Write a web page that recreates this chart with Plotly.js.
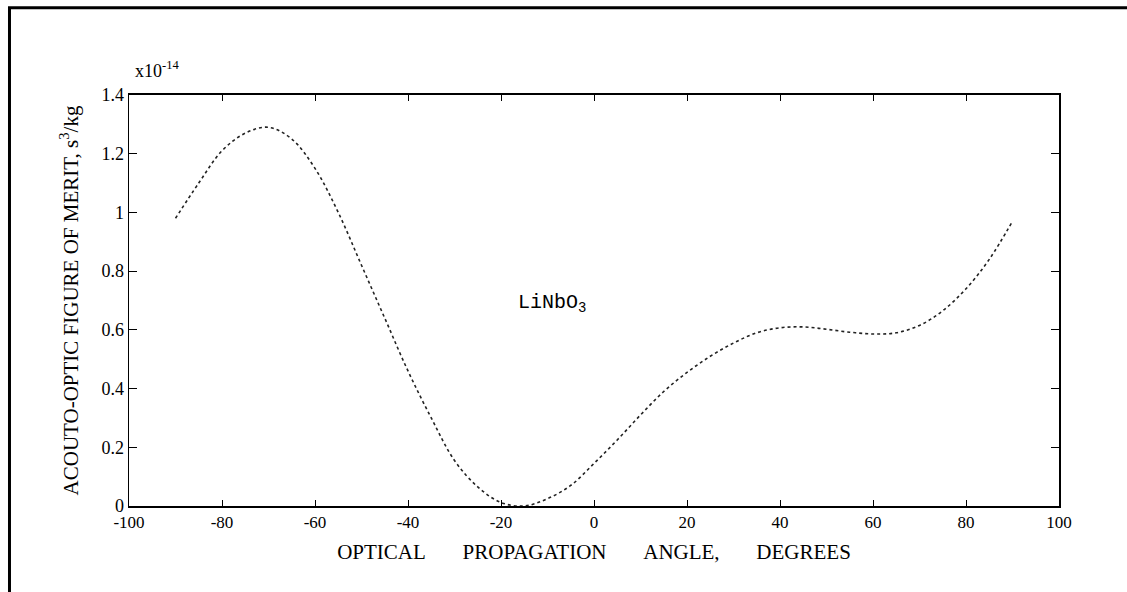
<!DOCTYPE html>
<html>
<head>
<meta charset="utf-8">
<script src="https://cdn.plot.ly/plotly-3.0.1.min.js"></script>
<style>html,body{margin:0;padding:0;background:#fff;}#chart{width:1127px;height:592px;}</style>
</head>
<body>
<div id="chart"></div>
<script>
const angles = [-90,-85,-80,-75,-70,-65,-60,-55,-50,-45,-40,-35,-30,-25,-20,-15,-10,-5,0,5,10,15,20,25,30,35,40,45,50,55,60,65,70,75,80,85,90];
const merit  = [0.98,1.10,1.21,1.27,1.29,1.25,1.15,1.00,0.82,0.64,0.46,0.30,0.155,0.065,0.012,0.0,0.025,0.07,0.145,0.225,0.31,0.39,0.455,0.51,0.555,0.59,0.607,0.61,0.602,0.592,0.586,0.59,0.615,0.665,0.74,0.84,0.97];
const xTickVals = [-100,-80,-60,-40,-20,0,20,40,60,80,100];
const xTickText = ["-100","-80","-60","-40","-20","0","20","40","60","80","100"];
const yTickVals = [0,0.2,0.4,0.6,0.8,1,1.2,1.4];
const yTickText = ["0","0.2","0.4","0.6","0.8","1","1.2","1.4"];

const serif = "Liberation Serif";
const sp = "\u00A0\u00A0\u00A0\u00A0\u00A0\u00A0\u00A0";

const trace = {
  x: angles, y: merit, mode: "lines", type: "scatter",
  line: {color: "#222", width: 1.6, dash: "dot", shape: "spline"},
  hoverinfo: "skip"
};

const layout = {
  width: 1127, height: 592,
  margin: {l: 129, r: 68, t: 95, b: 86},
  paper_bgcolor: "#fff", plot_bgcolor: "#fff",
  showlegend: false,
  font: {family: serif, color: "#000", size: 18},
  xaxis: {
    range: [-100, 100], tickvals: xTickVals, ticktext: xTickText,
    ticks: "inside", ticklen: 6, tickcolor: "#000", tickwidth: 1,
    showline: true, linecolor: "#000", linewidth: 2, mirror: "ticks",
    showgrid: false, zeroline: false,
    tickfont: {family: serif, size: 17, color: "#000"},
    title: {text: "OPTICAL" + sp + "PROPAGATION" + sp + "ANGLE," + sp + "DEGREES",
            font: {family: serif, size: 21, color: "#000"}, standoff: 13}
  },
  yaxis: {
    range: [0, 1.4], tickvals: yTickVals, ticktext: yTickText,
    ticks: "inside", ticklen: 8, tickcolor: "#000", tickwidth: 1,
    showline: true, linecolor: "#000", linewidth: 1.5, mirror: "ticks",
    showgrid: false, zeroline: false,
    tickfont: {family: serif, size: 18, color: "#000"},
    title: {text: "ACOUTO-OPTIC FIGURE OF MERIT, s<sup>3</sup>/kg",
            font: {family: serif, size: 21, color: "#000"}, standoff: 17}
  },
  annotations: [
    {xref: "paper", yref: "paper", x: 0.004, y: 1.03, xanchor: "left", yanchor: "bottom",
     text: "x10<sup>-14</sup>", showarrow: false, font: {family: serif, size: 18, color: "#000"}},
    {xref: "x", yref: "y", x: -9, y: 0.69, text: "LiNbO<sub>3</sub>", showarrow: false,
     font: {family: "Liberation Mono", size: 20, color: "#000"}}
  ],
  shapes: [
    {type: "line", xref: "paper", yref: "paper", x0: -0.1285, x1: -0.1285, y0: 1.214, y1: -0.25,
     line: {color: "#000", width: 3}},
    {type: "line", xref: "paper", yref: "paper", x0: -0.1301, x1: 1.1, y0: 1.212, y1: 1.212,
     line: {color: "#000", width: 3}}
  ]
};

Plotly.newPlot("chart", [trace], layout, {displayModeBar: false, staticPlot: true});
</script>
</body>
</html>
